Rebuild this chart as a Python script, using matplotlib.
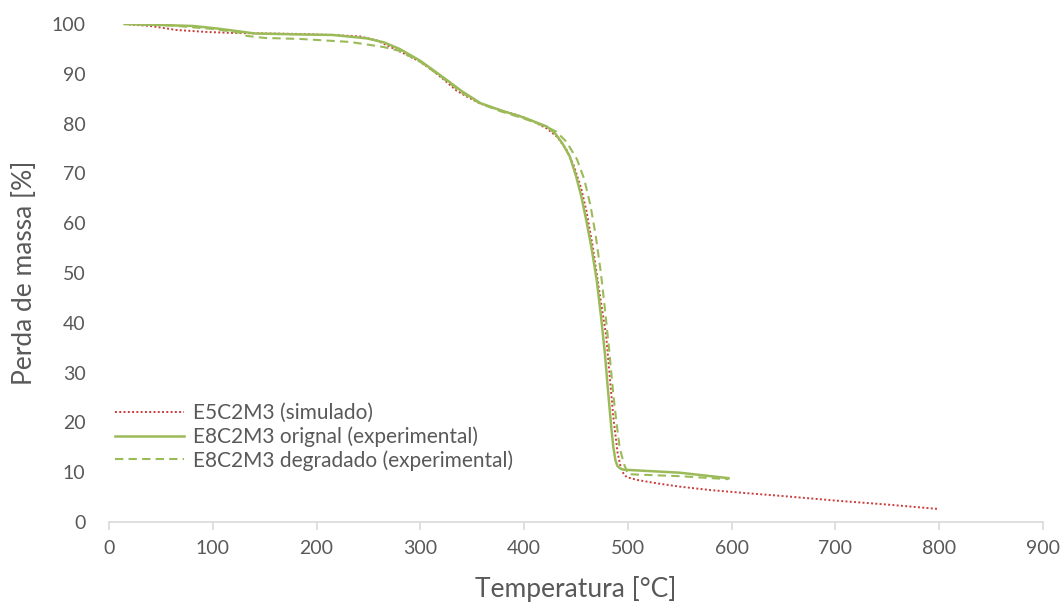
"""
TGA curves: simulated vs experimental mass loss for E5C2M3 / E8C2M3.
Values read off the original Excel chart.
"""
import matplotlib
matplotlib.use("Agg")
import matplotlib.pyplot as plt

plt.rcParams["font.family"] = ["Lato", "DejaVu Sans"]

# --- data ---
sim_T = [15, 40, 65, 94, 120, 150, 184, 215, 242, 258, 271, 285, 300, 313, 325,
         335, 345, 358, 377, 395, 409, 422, 432, 441, 448, 455, 460, 466, 472,
         479, 486, 490, 493, 496, 499, 510, 530, 550, 580, 614, 650, 700, 750, 800]
sim_m = [100, 99.6, 98.8, 98.4, 98.2, 98.1, 98.0, 97.8, 97.5, 96.7, 95.4, 94.0,
         92.4, 90.5, 88.4, 86.6, 85.4, 84.0, 82.7, 81.6, 80.4, 79.0, 77.3, 74.7,
         71.5, 67.0, 62.5, 55.5, 47.0, 37.5, 21.0, 14.0, 11.1, 9.6, 9.0, 8.4,
         7.7, 7.1, 6.4, 5.8, 5.2, 4.3, 3.5, 2.6]

orig_T = [15, 50, 81, 104, 126, 140, 184, 216, 249, 265, 280, 300, 320, 340, 358,
          377, 400, 422, 430, 437, 444, 450, 455, 460, 465, 470, 474, 478, 481,
          484, 486, 488, 490, 493, 496, 550, 597]
orig_m = [100, 99.8, 99.6, 99.1, 98.5, 98.1, 97.9, 97.8, 97.1, 96.3, 95.0, 92.6,
          89.6, 86.5, 84.1, 82.7, 81.2, 79.4, 78.0, 76.0, 73.4, 69.5, 65.5, 60.5,
          55.0, 48.5, 41.5, 33.5, 26.0, 19.0, 15.0, 12.4, 11.2, 10.7, 10.5, 9.9, 8.8]

degr_T = [15, 60, 100, 125, 133, 150, 184, 232, 264, 280, 300, 320, 340, 358, 377,
          400, 420, 431, 441, 451, 458, 464, 469, 474, 478, 482, 486, 489, 492,
          496, 500, 550, 597]
degr_m = [100, 99.7, 99.0, 98.3, 97.6, 97.2, 97.0, 96.4, 95.4, 94.6, 92.4, 89.4,
          86.2, 84.0, 82.5, 81.0, 79.5, 78.4, 76.3, 72.8, 68.8, 63.5, 57.5, 50.0,
          42.5, 34.5, 25.5, 20.0, 15.0, 11.8, 9.6, 9.2, 8.6]

RED = "#CC3B3B"
GREEN = "#9BBB59"
GREY = "#595959"

fig = plt.figure(figsize=(10.62, 6.10), dpi=100)
ax = fig.add_axes([109 / 1062, 88 / 610, 934 / 1062, 498 / 610])

ax.plot(sim_T, sim_m, color=RED, lw=1.4, ls=(0, (1, 1.2)), label="E5C2M3 (simulado)")
ax.plot(orig_T, orig_m, color=GREEN, lw=1.8, label="E8C2M3 orignal (experimental)")
ax.plot(degr_T, degr_m, color=GREEN, lw=1.5, ls=(0, (4, 2.5)),
        label="E8C2M3 degradado (experimental)")

ax.set_xlim(0, 900)
ax.set_ylim(0, 100)
ax.set_xticks(range(0, 901, 100))
ax.set_yticks(range(0, 101, 10))

for s in ("top", "right", "left"):
    ax.spines[s].set_visible(False)
ax.spines["bottom"].set_color("#D9D9D9")
ax.spines["bottom"].set_linewidth(1.2)
ax.tick_params(axis="x", colors="#D9D9D9", length=6, width=1.2, labelcolor=GREY,
               labelsize=14, pad=7)
ax.tick_params(axis="y", length=0, labelcolor=GREY, labelsize=14, pad=17)

ax.set_xlabel("Temperatura [°C]", fontsize=19, color=GREY, labelpad=14)
ax.set_ylabel("Perda de massa [%]", fontsize=19, color=GREY, labelpad=10)

leg = ax.legend(loc="upper left", bbox_to_anchor=(-0.002, 0.255), frameon=False,
                fontsize=15, handlelength=3.3, handletextpad=0.4,
                labelspacing=0.15, borderaxespad=0)
for t in leg.get_texts():
    t.set_color(GREY)

fig.savefig("out.png", dpi=100)
